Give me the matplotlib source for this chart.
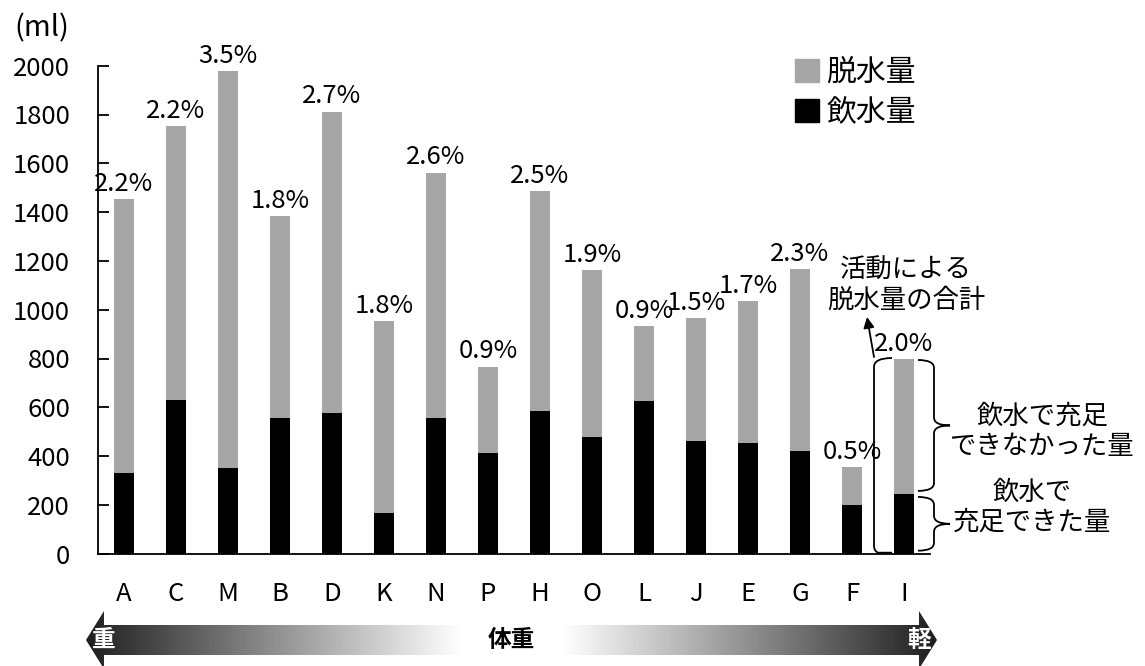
import numpy as np
import matplotlib
matplotlib.use("Agg")
import matplotlib.pyplot as plt
from matplotlib.patches import Polygon, PathPatch, Patch
from matplotlib.path import Path

plt.rcParams['font.family'] = ['Noto Sans CJK JP', 'DejaVu Sans']

# 選手（体重の重い順）
names = ['A', 'C', 'M', 'B', 'D', 'K', 'N', 'P', 'H', 'O', 'L', 'J', 'E', 'G', 'F', 'I']
# 活動による脱水量の合計 (ml)
total = [1455, 1752, 1978, 1382, 1812, 955, 1562, 767, 1486, 1161, 933, 965, 1037, 1167, 357, 798]
# 飲水量 (ml)
drink = [332, 630, 350, 555, 578, 166, 555, 411, 586, 480, 627, 461, 452, 422, 200, 245]
# 体重に対する脱水率 (%)
pct = [2.2, 2.2, 3.5, 1.8, 2.7, 1.8, 2.6, 0.9, 2.5, 1.9, 0.9, 1.5, 1.7, 2.3, 0.5, 2.0]

GRAY = '#a6a6a6'
W, H = 1145, 666
NUM_FS = 18.5

fig = plt.figure(figsize=(W / 100, H / 100), dpi=100)
ax = fig.add_axes([98 / W, 1 - 553.7 / H, 832 / W, 488 / H])

x = np.arange(len(names))
drink = np.array(drink)
total = np.array(total)
ax.bar(x, drink, width=0.4, color='black', zorder=2)
ax.bar(x, total - drink, bottom=drink, width=0.4, color=GRAY, zorder=2)

for xi, t, p in zip(x, total, pct):
    ax.annotate(f'{p:.1f}%', (xi, t), xytext=(0, 1.5), textcoords='offset points',
                ha='center', va='bottom', fontsize=NUM_FS)

ax.set_xlim(-0.5, len(names) - 0.5)
ax.set_ylim(0, 2000)
ax.set_yticks(np.arange(0, 2001, 200))
ax.set_xticks(x)
ax.set_xticklabels(names)
ax.tick_params(axis='y', direction='in', length=8, width=1.3, pad=20, labelsize=NUM_FS)
ax.tick_params(axis='x', length=0, pad=20, labelsize=NUM_FS)
for s in ['top', 'right']:
    ax.spines[s].set_visible(False)
for s in ['left', 'bottom']:
    ax.spines[s].set_linewidth(1.3)

ax.legend(handles=[Patch(color=GRAY, label='脱水量'), Patch(color='black', label='飲水量')],
          loc='upper left', bbox_to_anchor=(795 / W, 1 - 57 / H), bbox_transform=fig.transFigure,
          frameon=False, fontsize=21.5, handlelength=0.8, handleheight=0.8,
          handletextpad=0.25, labelspacing=0.3, borderpad=0, borderaxespad=0)

# 画素座標の重ね描き用
ov = fig.add_axes([0, 0, 1, 1])
ov.set_xlim(0, W)
ov.set_ylim(H, 0)
ov.axis('off')

def ypx(v):
    return H - ax.transData.transform((0, v))[1]

def xpx(v):
    return ax.transData.transform((v, 0))[0]

ov.text(42, 28, '(ml)', fontsize=21, ha='center', va='center')

# 体重の矢印（グラデーション）
cy = 640
arrow = Polygon([(86, cy), (104, cy - 29), (104, cy - 15), (919, cy - 15), (919, cy - 29),
                 (937, cy), (919, cy + 29), (919, cy + 15), (104, cy + 15), (104, cy + 29)],
                closed=True, facecolor='none', edgecolor='none')
ov.add_patch(arrow)
t = np.linspace(0, 1, 600)
d = np.abs(t - 0.5)
v = np.where(d < 0.06, 1.0, 1.0 - (d - 0.06) / 0.44 * 0.88)
im = ov.imshow(np.tile(v, (2, 1)), cmap='gray', vmin=0, vmax=1, aspect='auto',
               extent=(86, 937, cy + 29, cy - 29), interpolation='bilinear')
im.set_clip_path(arrow)
ov.set_xlim(0, W)
ov.set_ylim(H, 0)
ov.text(104, cy, '重', color='white', fontweight='bold', fontsize=17, ha='center', va='center')
ov.text(511, cy, '体重', color='black', fontweight='bold', fontsize=17, ha='center', va='center')
ov.text(919, cy, '軽', color='white', fontweight='bold', fontsize=17, ha='center', va='center')

# 右端 I の説明
i_last = len(names) - 1
xc = xpx(i_last)
top = ypx(total[i_last])
mid = ypx(drink[i_last])
base = ypx(0)

ov.text(906, 285, '活動による\n脱水量の合計', fontsize=19, ha='center', va='center', linespacing=1.15)
ov.annotate('', xy=(867, 317), xytext=(874, top - 2),
            arrowprops=dict(arrowstyle='-|>', color='black', lw=1.3, mutation_scale=16,
                            shrinkA=0, shrinkB=0))

# 左側の括弧
xl = xc - 30
bracket = Path([(xl + 18, top - 1), (xl, top - 1), (xl, top + 8), (xl, base - 8),
                (xl, base - 3), (xl + 4, base - 1), (xl + 18, base - 1)],
               [Path.MOVETO, Path.CURVE3, Path.CURVE3, Path.LINETO,
                Path.CURVE3, Path.CURVE3, Path.LINETO])
ov.add_patch(PathPatch(bracket, fill=False, lw=1.3, color='black'))

def brace(x0, y0, y1, w=32, r=8):
    xs = x0 + w / 2
    ym = (y0 + y1) / 2
    verts = [(x0, y0), (xs, y0), (xs, y0 + r), (xs, ym - r), (xs, ym), (x0 + w, ym),
             (xs, ym), (xs, ym + r), (xs, y1 - r), (xs, y1), (x0, y1)]
    codes = [Path.MOVETO, Path.CURVE3, Path.CURVE3, Path.LINETO, Path.CURVE3, Path.CURVE3,
             Path.CURVE3, Path.CURVE3, Path.LINETO, Path.CURVE3, Path.CURVE3]
    ov.add_patch(PathPatch(Path(verts, codes), fill=False, lw=1.3, color='black'))

brace(xc + 14, top + 1, mid - 3)
brace(xc + 14, mid + 3, base - 3)

ov.text(1042, 431, '飲水で充足\nできなかった量', fontsize=19, ha='center', va='center', linespacing=1.15)
ov.text(1032, 507, '飲水で\n充足できた量', fontsize=19, ha='center', va='center', linespacing=1.15)

fig.savefig('out.png', dpi=100)
